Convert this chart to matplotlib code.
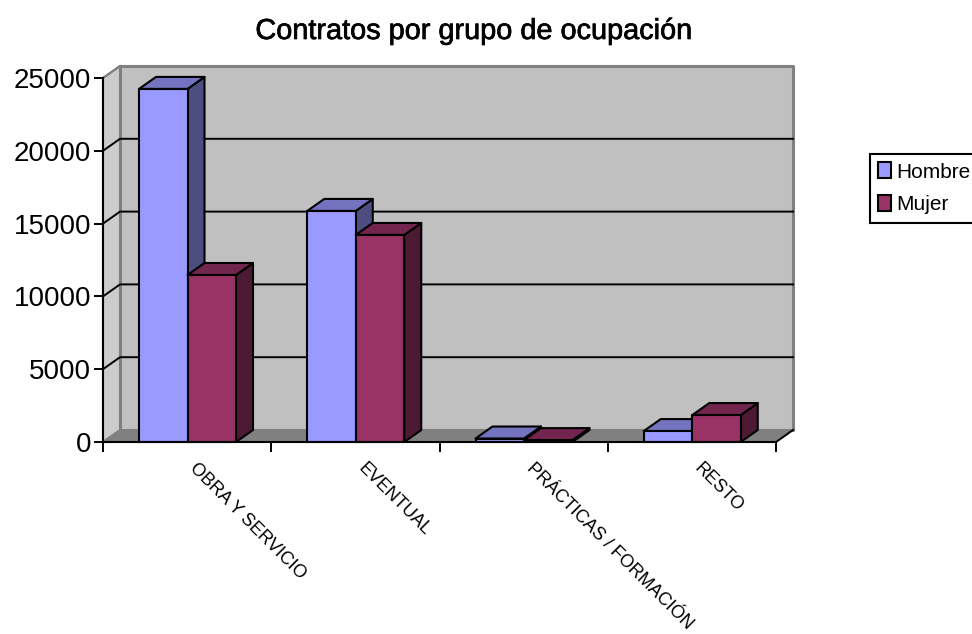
import matplotlib
matplotlib.use('Agg')
import matplotlib.pyplot as plt
import matplotlib.patheffects as pe
from matplotlib.patches import Polygon, Patch

plt.rcParams['font.family'] = ['Liberation Sans', 'DejaVu Sans']

categories = ['OBRA Y SERVICIO', 'EVENTUAL', 'PRÁCTICAS / FORMACIÓN', 'RESTO']
hombre = [24250, 15870, 240, 750]
mujer = [11470, 14220, 130, 1850]
y_ticks = [0, 5000, 10000, 15000, 20000, 25000]

W, H = 972, 634
# depth of the fake 3d box, data units
DX = 17 / 168.25
DY = 12 / 364 * 25000
BAR_W = 48.5 / 168.25
EDGE = 'black'
LW = 1.5


def poly(ax, pts, face, edge=EDGE, lw=LW, z=3):
    ax.add_patch(Polygon(pts, closed=True, facecolor=face, edgecolor=edge, linewidth=lw,
                         zorder=z, clip_on=False, joinstyle='round'))


def bar3d(ax, x, val, front, top, side):
    w = BAR_W
    poly(ax, [(x + w, 0), (x + w + DX, DY), (x + w + DX, val + DY), (x + w, val)], side)
    poly(ax, [(x, val), (x + DX, val + DY), (x + w + DX, val + DY), (x + w, val)], top)
    poly(ax, [(x, 0), (x + w, 0), (x + w, val), (x, val)], front)


fig = plt.figure(figsize=(W / 100, H / 100), dpi=100)
ax = fig.add_axes([103 / W, (H - 442) / H, 673 / W, 364 / H])
ax.set_xlim(0, 4)
ax.set_ylim(0, 25000)
ax.patch.set_alpha(0)
for s in ['top', 'right']:
    ax.spines[s].set_visible(False)
for s in ['left', 'bottom']:
    ax.spines[s].set_linewidth(1.5)
    ax.spines[s].set_zorder(5)

# walls and floor
top_y = 25000 + DY
poly(ax, [(0, 0), (DX, DY), (DX, top_y), (0, 25000)], '#cccccc', '#808080', 1.5, 1)
poly(ax, [(DX, DY), (4 + DX, DY), (4 + DX, top_y), (DX, top_y)], '#c0c0c0', '#808080', 2.2, 1)
poly(ax, [(0, 0), (4, 0), (4 + DX, DY), (DX, DY)], '#808080', '#808080', 1, 1)
for v in y_ticks[1:-1]:
    ax.plot([0, DX, 4 + DX], [v, v + DY, v + DY], color='black', lw=1.4, zorder=2, clip_on=False)
ax.plot([4, 4 + DX], [0, DY], color='black', lw=1.4, zorder=2, clip_on=False)
ax.plot([0, DX], [25000, top_y], color='#808080', lw=1.5, zorder=2, clip_on=False)

offset = 36 / 168.25
for i in range(len(categories)):
    bar3d(ax, i + offset, hombre[i], '#9999ff', '#7373bf', '#4d4d80')
    bar3d(ax, i + offset + BAR_W, mujer[i], '#993366', '#73264d', '#4d1a33')

ax.set_yticks(y_ticks)
ax.set_xticks(range(len(categories) + 1))
ax.set_xticklabels([])
ax.tick_params(axis='y', length=6.5, width=1.4, labelsize=20, pad=2)
ax.tick_params(axis='x', length=7, width=1.4)

for i, name in enumerate(categories):
    ax.annotate(name, xy=(i + 0.5, 0), xytext=(8, -13), textcoords='offset points',
                rotation=-45, rotation_mode='anchor', ha='left', va='top', fontsize=13,
                annotation_clip=False)

title = fig.text(474 / W, 1 - 31 / H, 'Contratos por grupo de ocupación', fontsize=20.8, ha='center',
                 va='center')
title.set_path_effects([pe.withStroke(linewidth=0.5, foreground='black')])

handles = [Patch(facecolor='#9999ff', edgecolor='black', linewidth=1.5, label='Hombre'),
           Patch(facecolor='#993366', edgecolor='black', linewidth=1.5, label='Mujer')]
leg = fig.legend(handles=handles, loc='upper left', bbox_to_anchor=(870 / W, 1 - 154 / H),
                 fontsize=15, frameon=True, fancybox=False, edgecolor='black', framealpha=1,
                 borderpad=0.4, borderaxespad=0, handlelength=0.6, handleheight=0.8,
                 handletextpad=0.25, labelspacing=0.65)
leg.get_frame().set_linewidth(1.5)

fig.savefig('out.png', dpi=100)
